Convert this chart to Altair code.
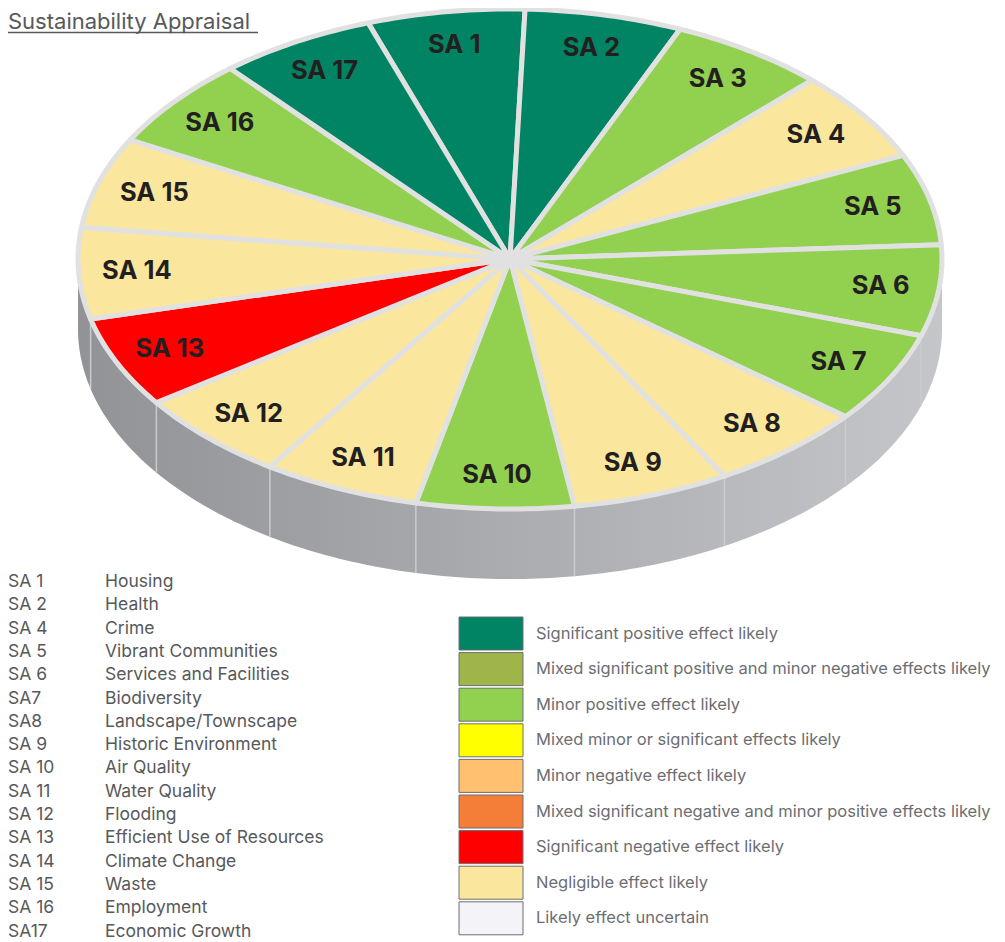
import math
import altair as alt
import pandas as pd

# ---------------- data ----------------
TITLE = "Sustainability Appraisal"

slice_codes = ["SA 1", "SA 2", "SA 3", "SA 4", "SA 5", "SA 6", "SA 7", "SA 8", "SA 9",
               "SA 10", "SA 11", "SA 12", "SA 13", "SA 14", "SA 15", "SA 16", "SA 17"]
slice_effects = [
    "Significant positive effect likely",
    "Significant positive effect likely",
    "Minor positive effect likely",
    "Negligible effect likely",
    "Minor positive effect likely",
    "Minor positive effect likely",
    "Minor positive effect likely",
    "Negligible effect likely",
    "Negligible effect likely",
    "Minor positive effect likely",
    "Negligible effect likely",
    "Negligible effect likely",
    "Significant negative effect likely",
    "Negligible effect likely",
    "Negligible effect likely",
    "Minor positive effect likely",
    "Significant positive effect likely",
]
slice_weights = [1] * 17

legend_labels = [
    "Significant positive effect likely",
    "Mixed significant positive and minor negative effects likely",
    "Minor positive effect likely",
    "Mixed minor or significant effects likely",
    "Minor negative effect likely",
    "Mixed significant negative and minor positive effects likely",
    "Significant negative effect likely",
    "Negligible effect likely",
    "Likely effect uncertain",
]
legend_colors = ["#008464", "#9fb54a", "#92d050", "#ffff00", "#ffc06f",
                 "#f47d38", "#ff0000", "#fae79d", "#f4f3f8"]

list_codes = ["SA 1", "SA 2", "SA 4", "SA 5", "SA 6", "SA7", "SA8", "SA 9", "SA 10",
              "SA 11", "SA 12", "SA 13", "SA 14", "SA 15", "SA 16", "SA17"]
list_names = ["Housing", "Health", "Crime", "Vibrant Communities", "Services and Facilities",
              "Biodiversity", "Landscape/Townscape", "Historic Environment", "Air Quality",
              "Water Quality", "Flooding", "Efficient Use of Resources", "Climate Change",
              "Waste", "Employment", "Economic Growth"]

# ---------------- layout / style ----------------
W, H = 989, 934
CX, CY, A, B = 510, 259, 432, 250      # top face ellipse
DEPTH = 70                              # side height
ROT = math.radians(2)
OFF = slice_weights[0] / sum(slice_weights)
N = 24
LABEL_R = 0.865
FONT = "Inter"
TEXT_GREY = "#58595b"

xs = alt.Scale(domain=[8, 8 + W], nice=False, zero=False)
ys = alt.Scale(domain=[8, 8 + H], nice=False, zero=False, reverse=True)
cs = alt.Scale(domain=legend_labels, range=legend_colors)

slices = pd.DataFrame({"code": slice_codes, "effect": slice_effects,
                       "w": slice_weights, "idx": list(range(len(slice_codes)))})


def with_angles(ch):
    return (ch.transform_window(cum="sum(w)", sort=[alt.SortField("idx")], frame=[None, 0])
              .transform_joinaggregate(total="sum(w)")
              .transform_calculate(
                  t0=f"2*PI*((datum.cum - datum.w)/datum.total - {OFF}) + {ROT}",
                  t1=f"2*PI*(datum.cum/datum.total - {OFF}) + {ROT}"))


# side of the disc
side = alt.Chart(alt.sequence(0, 201, as_="i")).transform_calculate(
    t="PI/2 + PI*datum.i/200",
    sx=f"{CX} + {A}*sin(datum.t)",
    sy=f"{CY} - {B}*cos(datum.t)",
    sy2=f"{CY} - {B}*cos(datum.t) + {DEPTH}",
).mark_area(
    color=alt.Gradient(gradient="linear",
                       stops=[alt.GradientStop(color="#929397", offset=0),
                              alt.GradientStop(color="#abacaf", offset=0.5),
                              alt.GradientStop(color="#c5c6c9", offset=1)],
                       x1=0, x2=1, y1=0, y2=0)
).encode(
    x=alt.X("sx:Q", scale=xs, axis=None),
    y=alt.Y("sy:Q", scale=ys, axis=None),
    y2="sy2:Q",
)

side_lines = with_angles(alt.Chart(slices)).transform_filter(
    "cos(datum.t0) < 0"
).transform_calculate(
    bx=f"{CX} + {A}*sin(datum.t0)",
    by=f"{CY} - {B}*cos(datum.t0)",
    by2=f"{CY} - {B}*cos(datum.t0) + {DEPTH}",
).mark_rule(color="#cacbce", strokeWidth=1.5).encode(
    x=alt.X("bx:Q", scale=xs, axis=None),
    y=alt.Y("by:Q", scale=ys, axis=None),
    y2="by2:Q",
)

pie = with_angles(alt.Chart(slices)).transform_calculate(
    k=f"sequence(0, {N + 2})"
).transform_flatten(["k"]).transform_calculate(
    u=f"clamp((datum.k - 1)/{N - 1}, 0, 1)",
    t="datum.t0 + (datum.t1 - datum.t0)*datum.u",
    edge=f"datum.k == 0 || datum.k == {N + 1}",
    px=f"datum.edge ? {CX} : {CX} + {A}*sin(datum.t)",
    py=f"datum.edge ? {CY} : {CY} - {B}*cos(datum.t)",
).mark_line(
    filled=True, stroke="#e1e1e2", strokeWidth=5, strokeJoin="round", interpolate="linear"
).encode(
    x=alt.X("px:Q", scale=xs, axis=None),
    y=alt.Y("py:Q", scale=ys, axis=None),
    color=alt.Color("effect:N", scale=cs, legend=None),
    detail="code:N",
    order="k:Q",
)

labels = with_angles(alt.Chart(slices)).transform_calculate(
    tm="(datum.t0 + datum.t1)/2",
    lx=f"{CX} + {LABEL_R}*{A}*sin(datum.tm)",
    ly=f"{CY} - {LABEL_R}*{B}*cos(datum.tm)",
).mark_text(font=FONT, fontWeight="bold", fontSize=25.5, color="#231f20").encode(
    x=alt.X("lx:Q", scale=xs, axis=None),
    y=alt.Y("ly:Q", scale=ys, axis=None),
    text="code:N",
)

title_df = pd.DataFrame({"t": [TITLE]})
title = alt.Chart(title_df).mark_text(
    font=FONT, fontSize=22, color=TEXT_GREY, align="left", baseline="alphabetic"
).encode(
    x=alt.XDatum(8, scale=xs, axis=None),
    y=alt.YDatum(28.5, scale=ys, axis=None),
    text="t:N",
)
underline = alt.Chart(title_df).mark_rule(color=TEXT_GREY, strokeWidth=1.5).encode(
    x=alt.XDatum(8, scale=xs, axis=None),
    x2=alt.X2Datum(258),
    y=alt.YDatum(32.5, scale=ys, axis=None),
)

list_df = pd.DataFrame({"code": list_codes, "name": list_names,
                        "i": list(range(len(list_codes)))})
list_base = alt.Chart(list_df).transform_calculate(ry="582 + datum.i*23.3")
list_code_text = list_base.mark_text(
    font=FONT, fontSize=17.5, color=TEXT_GREY, align="left", baseline="middle"
).encode(
    x=alt.XDatum(8, scale=xs, axis=None),
    y=alt.Y("ry:Q", scale=ys, axis=None),
    text="code:N",
)
list_name_text = list_base.mark_text(
    font=FONT, fontSize=17.5, color=TEXT_GREY, align="left", baseline="middle"
).encode(
    x=alt.XDatum(105, scale=xs, axis=None),
    y=alt.Y("ry:Q", scale=ys, axis=None),
    text="name:N",
)

leg_df = pd.DataFrame({"effect": legend_labels, "i": list(range(len(legend_labels)))})
leg_base = alt.Chart(leg_df).transform_calculate(
    y0="617 + datum.i*35.6", y1="650 + datum.i*35.6", yc="633.5 + datum.i*35.6"
)
swatches = leg_base.mark_rect(stroke="#6d6e71", strokeWidth=1).encode(
    x=alt.XDatum(459, scale=xs, axis=None),
    x2=alt.X2Datum(523),
    y=alt.Y("y0:Q", scale=ys, axis=None),
    y2="y1:Q",
    color=alt.Color("effect:N", scale=cs, legend=None),
)
swatch_text = leg_base.mark_text(
    font=FONT, fontSize=16.5, color="#6d6e71", align="left", baseline="middle"
).encode(
    x=alt.XDatum(536, scale=xs, axis=None),
    y=alt.Y("yc:Q", scale=ys, axis=None),
    text="effect:N",
)

chart = alt.layer(
    side, side_lines, pie, labels, title, underline,
    list_code_text, list_name_text, swatches, swatch_text
).properties(
    width=W, height=H, padding=0, autosize=alt.AutoSizeParams(type="none")
).configure_view(stroke=None).configure_axis(disable=True)

chart.save("out.html", embed_options={"renderer": "svg", "actions": False})
